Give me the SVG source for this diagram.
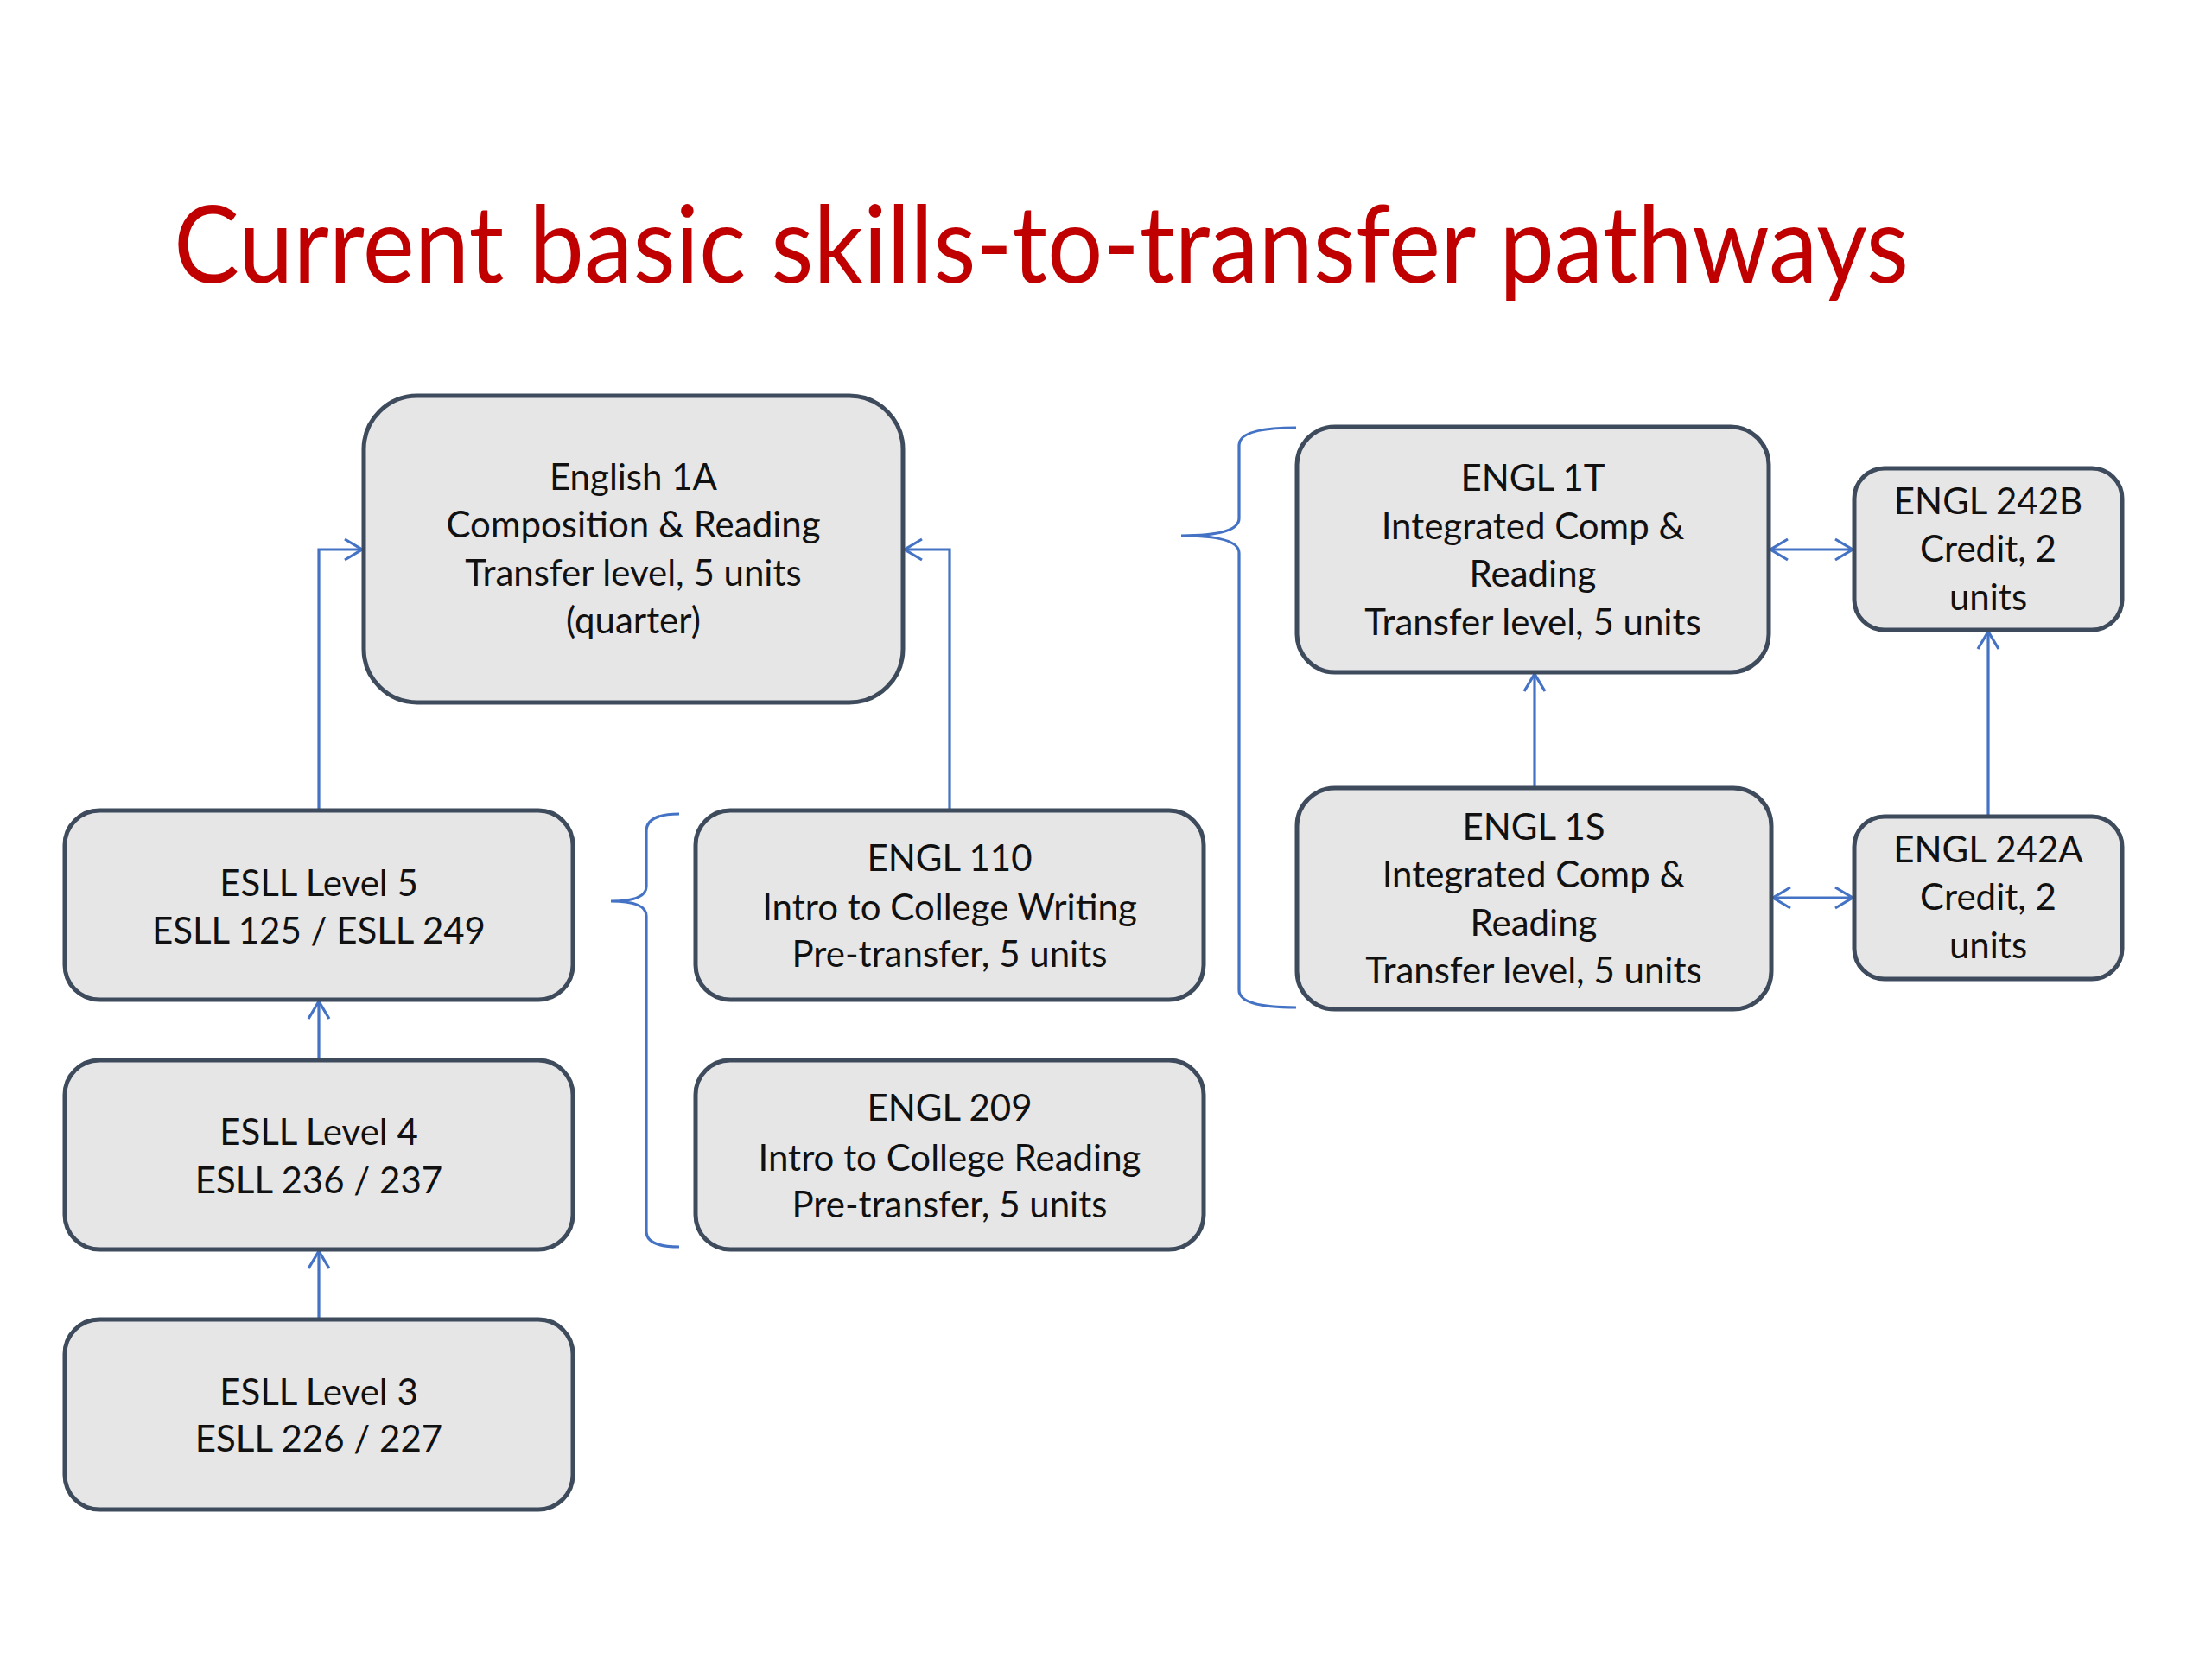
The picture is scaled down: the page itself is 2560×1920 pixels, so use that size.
<svg xmlns="http://www.w3.org/2000/svg" width="2560" height="1920" viewBox="0 0 2560 1920">
<defs>
<style>
.box{fill:#E7E6E6;stroke:#3E4B5C;stroke-width:5}
.t{font-family:Lato,"Open Sans","Liberation Sans",sans-serif;font-size:42px;fill:#111;text-anchor:middle}
.title{font-family:Lato,"Open Sans","Liberation Sans",sans-serif;font-size:124px;fill:#C00000}
.c{fill:none;stroke:#4472C4;stroke-width:3.2}
</style>
<marker id="ah" viewBox="0 0 24 28" refX="22" refY="14" markerUnits="userSpaceOnUse" markerWidth="24" markerHeight="28" orient="auto-start-reverse">
<path d="M2,2 L22,14 L2,26" fill="none" stroke="#4472C4" stroke-width="3.2"/>
</marker>
</defs>
<rect width="2560" height="1920" fill="#fff"/>
<text class="title" x="201" y="327" textLength="2008" lengthAdjust="spacingAndGlyphs">Current basic skills-to-transfer pathways</text>

<g id="connectors">
<path class="c" d="M369,938 V636 H419" marker-end="url(#ah)"/>
<path class="c" d="M1099,938 V636 H1047" marker-end="url(#ah)"/>
<path class="c" d="M369,1227 V1159" marker-end="url(#ah)"/>
<path class="c" d="M369,1527 V1448" marker-end="url(#ah)"/>
<path class="c" d="M1776,912 V780" marker-end="url(#ah)"/>
<path class="c" d="M2301,945 V731" marker-end="url(#ah)"/>
<path class="c" d="M2049,636 H2144" marker-start="url(#ah)" marker-end="url(#ah)"/>
<path class="c" d="M2052,1039 H2144" marker-start="url(#ah)" marker-end="url(#ah)"/>
<path class="c" d="M786,942 Q748,942 748,962 V1026 Q748,1043 707,1043 Q748,1043 748,1060 V1425 Q748,1443 786,1443"/>
<path class="c" d="M1500,495 Q1434,495 1434,515 V600 Q1434,620 1367,620 Q1434,620 1434,640 V1146 Q1434,1166 1500,1166"/>
</g>

<g id="n_eng1a">
<rect class="box" x="421" y="458" width="624" height="355" rx="62"/>
<text class="t" x="733" y="567">English 1A</text>
<text class="t" x="733" y="622">Composition &amp; Reading</text>
<text class="t" x="733" y="678">Transfer level, 5 units</text>
<text class="t" x="733" y="733">(quarter)</text>
</g>
<g id="n_esll5">
<rect class="box" x="75" y="938" width="588" height="219" rx="40"/>
<text class="t" x="369" y="1037">ESLL Level 5</text>
<text class="t" x="369" y="1092">ESLL 125 / ESLL 249</text>
</g>
<g id="n_esll4">
<rect class="box" x="75" y="1227" width="588" height="219" rx="40"/>
<text class="t" x="369" y="1325">ESLL Level 4</text>
<text class="t" x="369" y="1381">ESLL 236 / 237</text>
</g>
<g id="n_esll3">
<rect class="box" x="75" y="1527" width="588" height="220" rx="40"/>
<text class="t" x="369" y="1626">ESLL Level 3</text>
<text class="t" x="369" y="1680">ESLL 226 / 227</text>
</g>
<g id="n_engl110">
<rect class="box" x="805" y="938" width="588" height="219" rx="40"/>
<text class="t" x="1099" y="1008">ENGL 110</text>
<text class="t" x="1099" y="1065">Intro to College Writing</text>
<text class="t" x="1099" y="1119">Pre-transfer, 5 units</text>
</g>
<g id="n_engl209">
<rect class="box" x="805" y="1227" width="588" height="219" rx="40"/>
<text class="t" x="1099" y="1297">ENGL 209</text>
<text class="t" x="1099" y="1355">Intro to College Reading</text>
<text class="t" x="1099" y="1409">Pre-transfer, 5 units</text>
</g>
<g id="n_engl1t">
<rect class="box" x="1501" y="494" width="546" height="284" rx="44"/>
<text class="t" x="1774" y="568">ENGL 1T</text>
<text class="t" x="1774" y="624">Integrated Comp &amp;</text>
<text class="t" x="1774" y="679">Reading</text>
<text class="t" x="1774" y="735">Transfer level, 5 units</text>
</g>
<g id="n_engl242b">
<rect class="box" x="2146" y="542" width="310" height="187" rx="35"/>
<text class="t" x="2301" y="595">ENGL 242B</text>
<text class="t" x="2301" y="650">Credit, 2</text>
<text class="t" x="2301" y="706">units</text>
</g>
<g id="n_engl1s">
<rect class="box" x="1501" y="912" width="549" height="256" rx="44"/>
<text class="t" x="1775" y="972">ENGL 1S</text>
<text class="t" x="1775" y="1027">Integrated Comp &amp;</text>
<text class="t" x="1775" y="1083">Reading</text>
<text class="t" x="1775" y="1138">Transfer level, 5 units</text>
</g>
<g id="n_engl242a">
<rect class="box" x="2146" y="945" width="310" height="188" rx="35"/>
<text class="t" x="2301" y="998">ENGL 242A</text>
<text class="t" x="2301" y="1053">Credit, 2</text>
<text class="t" x="2301" y="1109">units</text>
</g>
</svg>
